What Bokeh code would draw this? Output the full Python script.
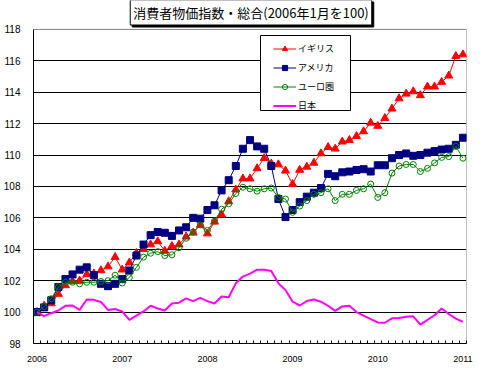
from bokeh.plotting import figure
from bokeh.models import (Range1d, FixedTicker, Legend, LegendItem, Label,
                          BoxAnnotation, ColumnDataSource)
from bokeh.embed import file_html
from bokeh.resources import INLINE

# ---- data (monthly, Jan 2006 .. Jan 2011, index 2006/01 = 100) ----
months = list(range(61))
year_ticks = [0, 12, 24, 36, 48, 60]
year_labels = ["2006", "2007", "2008", "2009", "2010", "2011"]
y_ticks = [98, 100, 102, 104, 106, 108, 110, 112, 114, 116, 118]
series_names = ["イギリス", "アメリカ", "ユーロ圏", "日本"]
title_text = "消費者物価指数・総合(2006年1月を100)"

uk = [100.0, 100.4, 100.55, 101.15, 101.7, 101.95, 102.0, 102.4, 102.45, 102.65,
      102.9, 103.5, 102.7, 103.15, 103.75, 104.0, 104.3, 104.5, 103.9, 104.2,
      104.3, 104.8, 105.05, 105.55, 105.0, 105.75, 106.2, 107.05, 107.8, 108.5,
      108.5, 109.15, 109.8, 109.45, 109.4, 109.0, 108.15, 109.05, 109.25, 109.5,
      110.1, 110.5, 110.4, 110.85, 110.95, 111.2, 111.5, 112.05, 111.85, 112.35,
      112.95, 113.6, 113.9, 114.05, 113.8, 114.35, 114.35, 114.65, 115.05, 116.3,
      116.4]
usa = [100.0, 100.3, 100.75, 101.6, 102.1, 102.4, 102.7, 102.85, 102.35, 101.8,
       101.65, 101.8, 102.1, 102.65, 103.6, 104.3, 104.9, 105.1, 105.05, 104.85,
       105.2, 105.4, 106.0, 105.95, 106.5, 106.8, 107.75, 108.4, 109.3, 110.4,
       110.95, 110.55, 110.4, 109.3, 107.2, 106.05, 106.5, 107.0, 107.35, 107.6,
       107.9, 108.8, 108.65, 108.9, 108.95, 109.05, 109.1, 108.95, 109.35, 109.35,
       109.8, 110.0, 110.1, 109.95, 110.0, 110.15, 110.25, 110.35, 110.4, 110.65,
       111.1]
euro = [100.0, 100.35, 100.85, 101.6, 101.9, 101.9, 101.8, 101.9, 101.9, 101.95,
        102.0, 102.35, 101.85, 102.2, 102.85, 103.5, 103.75, 103.85, 103.6, 103.65,
        104.1, 104.7, 105.1, 105.55, 105.2, 105.8, 106.55, 106.9, 107.55, 107.95,
        107.85, 107.7, 107.85, 107.9, 107.3, 107.2, 106.35, 106.75, 107.1, 107.5,
        107.6, 107.85, 107.1, 107.5, 107.5, 107.75, 107.85, 108.15, 107.3, 107.6,
        108.85, 109.3, 109.4, 109.4, 108.95, 109.15, 109.5, 109.85, 109.9, 110.55,
        109.8]
japan = [100.0, 99.75, 99.93, 100.1, 100.4, 100.42, 100.14, 100.8, 100.78, 100.64,
         100.14, 100.2, 100.04, 99.5, 99.78, 100.04, 100.4, 100.23, 100.1, 100.55,
         100.6, 100.87, 100.7, 100.9, 100.7, 100.55, 100.99, 100.94, 101.83, 102.26,
         102.45, 102.7, 102.7, 102.62, 101.83, 101.4, 100.66, 100.42, 100.7, 100.8,
         100.66, 100.4, 100.08, 100.36, 100.4, 100.0, 99.78, 99.55, 99.34, 99.32,
         99.6, 99.62, 99.7, 99.73, 99.2, 99.5, 99.8, 100.23, 99.88, 99.58,
         99.38]

src = ColumnDataSource(dict(x=months, uk=uk, usa=usa, euro=euro, japan=japan))

Y_MIN, Y_MAX = y_ticks[0], y_ticks[-1]
# frame extends to the top of the canvas so the title box (inside it) is not clipped
p = figure(width=487, height=373, output_backend="svg", toolbar_location=None,
           x_range=Range1d(-0.5, 60.5), y_range=Range1d(Y_MIN, 119.84),
           min_border_left=33, min_border_right=21, min_border_top=0,
           min_border_bottom=30)
p.background_fill_color = "white"
p.border_fill_color = "white"
p.outline_line_color = None

# plot-area border (grey top / right), drawn under the axes
border = BoxAnnotation(left=-0.5, right=60.5, bottom=Y_MIN, top=Y_MAX,
                       fill_alpha=0, line_color="#808080", line_alpha=1.0,
                       line_width=1, level="underlay")
p.add_layout(border)

# x axis: year labels at January, small inner ticks at each month boundary
p.xaxis.ticker = FixedTicker(ticks=year_ticks,
                             minor_ticks=[m - 0.5 for m in range(62)])
p.xaxis.major_label_overrides = {t: l for t, l in zip(year_ticks, year_labels)}
p.xaxis.major_tick_line_color = None
p.xaxis.minor_tick_in = 3
p.xaxis.minor_tick_out = 0
p.xaxis.minor_tick_line_color = "black"
p.xaxis.axis_line_color = "black"
p.xaxis.major_label_standoff = 6
p.xaxis.major_label_text_font = "Liberation Sans"
p.xaxis.major_label_text_font_size = "9px"
p.xaxis.major_label_text_color = "black"
p.xgrid.visible = False

p.yaxis.ticker = FixedTicker(ticks=y_ticks)
p.yaxis.bounds = (Y_MIN, Y_MAX)
p.yaxis.major_tick_in = 0
p.yaxis.major_tick_out = 0
p.yaxis.minor_tick_line_color = None
p.yaxis.axis_line_color = "black"
p.yaxis.major_label_standoff = 13
p.yaxis.major_label_text_font = "Liberation Sans"
p.yaxis.major_label_text_font_size = "10px"
p.yaxis.major_label_text_color = "black"
p.ygrid.ticker = FixedTicker(ticks=y_ticks[1:-1])
p.ygrid.grid_line_color = "black"
p.ygrid.grid_line_width = 1

# series (drawn in legend order)
uk_l = p.line("x", "uk", source=src, line_color="#FF0000", line_width=1)
uk_m = p.scatter("x", "uk", source=src, marker="triangle", size=8,
                 fill_color="#FF0000", line_color="#FF0000")
us_l = p.line("x", "usa", source=src, line_color="#000080", line_width=1)
us_m = p.scatter("x", "usa", source=src, marker="square", size=7,
                 fill_color="#000080", line_color="#000080")
eu_l = p.line("x", "euro", source=src, line_color="#008000", line_width=1)
eu_m = p.scatter("x", "euro", source=src, marker="circle", size=6,
                 fill_color=None, line_color="#008000", line_width=1)
jp_l = p.line("x", "japan", source=src, line_color="#FF00FF", line_width=2)

# legend frame (screen units from the frame's bottom-left corner)
box = BoxAnnotation(left=227, right=317, bottom=233, top=308,
                    left_units="screen", right_units="screen",
                    bottom_units="screen", top_units="screen",
                    fill_color="white", fill_alpha=1.0,
                    line_color="black", line_alpha=1.0, line_width=1)
p.add_layout(box)

legend = Legend(items=[
    LegendItem(label=series_names[0], renderers=[uk_l, uk_m]),
    LegendItem(label=series_names[1], renderers=[us_l, us_m]),
    LegendItem(label=series_names[2], renderers=[eu_l, eu_m]),
    LegendItem(label=series_names[3], renderers=[jp_l]),
], location=(240, 231), padding=4, spacing=6, margin=0,
    glyph_width=23, glyph_height=13, label_height=13, label_standoff=2,
    label_text_font="Noto Sans CJK JP", label_text_font_size="9px",
    label_text_color="black",
    background_fill_alpha=0, border_line_color=None)
p.add_layout(legend)

# title box with shadow
shadow = Label(x=219.5, y=329, x_units="screen", y_units="screen",
               text=title_text, text_align="center", text_baseline="middle",
               text_font="Noto Sans CJK JP", text_font_size="13px",
               text_color="black", background_fill_color="black",
               border_line_color="black", padding=3)
title = Label(x=217.5, y=331, x_units="screen", y_units="screen",
              text=title_text, text_align="center", text_baseline="middle",
              text_font="Noto Sans CJK JP", text_font_size="13px",
              text_color="black", background_fill_color="white",
              border_line_color="black", border_line_width=1, padding=3)
p.add_layout(shadow)
p.add_layout(title)

open("out.html", "w").write(file_html(p, INLINE))
